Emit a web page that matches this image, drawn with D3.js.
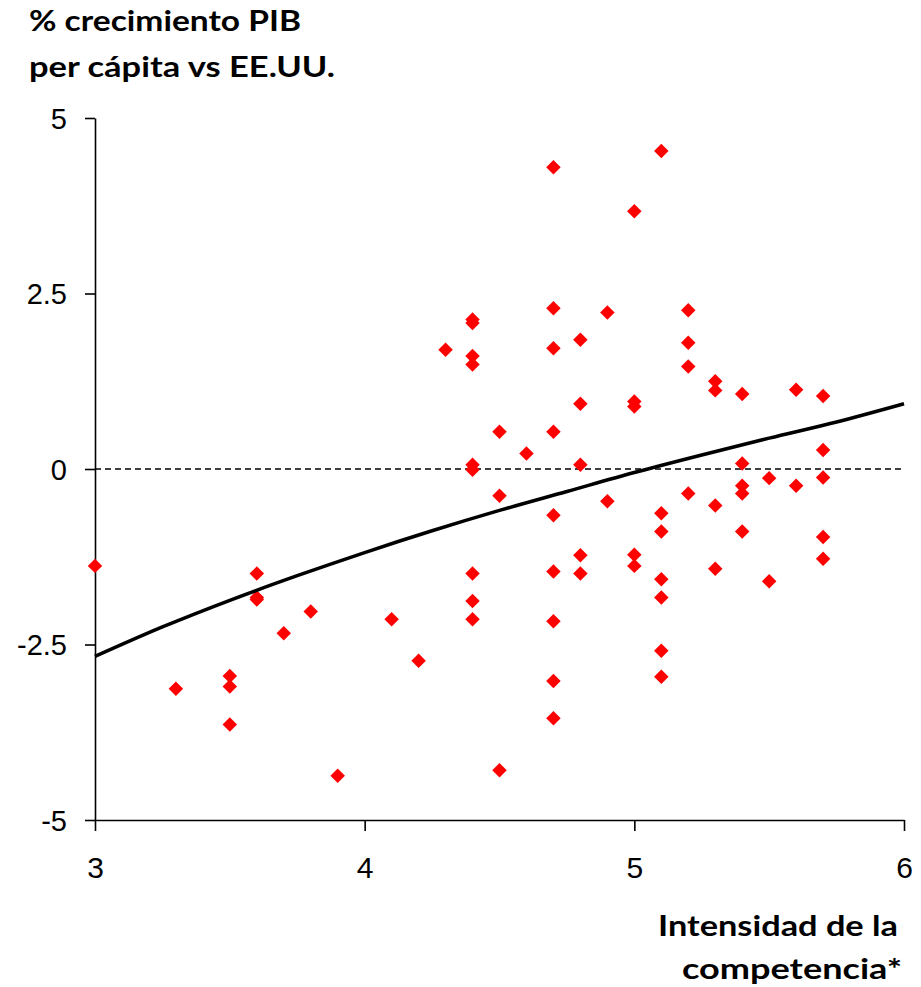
<!DOCTYPE html>
<html>
<head>
<meta charset="utf-8">
<script src="https://cdn.jsdelivr.net/npm/d3@7"></script>
<style>
  body { margin: 0; background: #fff; }
</style>
</head>
<body>
<script>
// intensidad de la competencia (x) y crecimiento PIB per cápita vs EE.UU. (y)
var competencia = [
  3.0, 3.3, 3.5, 3.5, 3.5, 3.6, 3.6, 3.6, 3.7, 3.8, 3.9, 4.1, 4.2, 4.3,
  4.4, 4.4, 4.4, 4.4, 4.4, 4.4, 4.4, 4.4, 4.4,
  4.5, 4.5, 4.5, 4.6,
  4.7, 4.7, 4.7, 4.7, 4.7, 4.7, 4.7, 4.7, 4.7,
  4.8, 4.8, 4.8, 4.8, 4.8, 4.9, 4.9,
  5.0, 5.0, 5.0, 5.0, 5.0,
  5.1, 5.1, 5.1, 5.1, 5.1, 5.1, 5.1,
  5.2, 5.2, 5.2, 5.2, 5.3, 5.3, 5.3, 5.3,
  5.4, 5.4, 5.4, 5.4, 5.4, 5.5, 5.5, 5.6, 5.6,
  5.7, 5.7, 5.7, 5.7, 5.7
];
var crecimiento = [
  -1.38, -3.13, -2.95, -3.10, -3.64, -1.49, -1.83, -1.86, -2.34, -2.03, -4.37, -2.14, -2.73, 1.70,
  2.13, 2.08, 1.61, 1.49, 0.06, -0.01, -1.49, -1.88, -2.14,
  0.53, -0.38, -4.29, 0.22,
  4.30, 2.29, 1.72, 0.53, -0.66, -1.46, -2.17, -3.02, -3.55,
  1.84, 0.93, 0.06, -1.23, -1.49, 2.23, -0.46,
  3.67, 0.96, 0.89, -1.22, -1.38,
  4.53, -0.63, -0.89, -1.57, -1.83, -2.59, -2.96,
  2.26, 1.80, 1.46, -0.35, 1.25, 1.12, -0.52, -1.42,
  1.07, 0.08, -0.24, -0.35, -0.89, -0.13, -1.60, 1.13, -0.24,
  1.04, 0.27, -0.12, -0.97, -1.28
];

// línea de tendencia
var trendX = [3, 3.25, 3.5, 3.75, 4, 4.25, 4.5, 4.75, 5, 5.25, 5.5, 5.75, 6];
var trendY = [-2.67, -2.25, -1.87, -1.52, -1.19, -0.88, -0.59, -0.32, -0.05, 0.20, 0.44, 0.67, 0.93];

var xTicks = [3, 4, 5, 6];
var yTicks = [-5, -2.5, 0, 2.5, 5];

var WIDTH = 921;
var HEIGHT = 987;

var svg = d3.select('body').append('svg')
  .attr('width', WIDTH)
  .attr('height', HEIGHT);

var x = d3.scaleLinear().domain([3, 6]).range([95, 904]);
var y = d3.scaleLinear().domain([-5, 5]).range([820, 118]);

// ejes
var yAxis = svg.append('g')
  .attr('transform', 'translate(' + x(3) + ',0)')
  .call(d3.axisLeft(y)
    .tickValues(yTicks)
    .tickSize(10)
    .tickSizeOuter(0)
    .tickPadding(18)
    .tickFormat(function (d) { return String(d); }));

var xAxis = svg.append('g')
  .attr('transform', 'translate(0,' + y(-5) + ')')
  .call(d3.axisBottom(x)
    .tickValues(xTicks)
    .tickSize(11)
    .tickSizeOuter(0)
    .tickFormat(function (d) { return String(d); }));

svg.selectAll('.domain, .tick line')
  .style('stroke', '#000')
  .style('stroke-width', 1.6);

yAxis.selectAll('text')
  .style('font-family', '"Liberation Sans", Arial, sans-serif')
  .style('font-size', '29px')
  .attr('dy', '0.36em')
  .style('fill', '#000');

xAxis.selectAll('text')
  .style('font-family', '"Liberation Sans", Arial, sans-serif')
  .style('font-size', '30px')
  .attr('y', 58)
  .attr('dy', 0)
  .style('fill', '#000');

// línea discontinua en cero
svg.append('line')
  .attr('x1', x(3))
  .attr('x2', x(6))
  .attr('y1', y(0))
  .attr('y2', y(0))
  .style('stroke', '#000')
  .style('stroke-width', 1.5)
  .style('stroke-dasharray', '6,4');

// puntos
var points = competencia.map(function (d, i) {
  return { x: d, y: crecimiento[i] };
});

svg.append('g').selectAll('path')
  .data(points)
  .enter().append('path')
    .attr('d', d3.symbol().type(d3.symbolSquare).size(105))
    .attr('transform', function (d) {
      return 'translate(' + x(d.x) + ',' + y(d.y) + ') rotate(45)';
    })
    .style('fill', '#ff0000');

// tendencia
var trend = trendX.map(function (d, i) {
  return { x: d, y: trendY[i] };
});

svg.append('path')
  .datum(trend)
  .attr('d', d3.line()
    .x(function (d) { return x(d.x); })
    .y(function (d) { return y(d.y); })
    .curve(d3.curveMonotoneX))
  .style('fill', 'none')
  .style('stroke', '#000')
  .style('stroke-width', 3.5);

// títulos
function title(txt, px, py, anchor, len) {
  svg.append('text')
    .attr('x', px)
    .attr('y', py)
    .attr('text-anchor', anchor)
    .attr('textLength', len)
    .attr('lengthAdjust', 'spacingAndGlyphs')
    .style('font-family', 'Lato, "Open Sans", sans-serif')
    .style('font-weight', 'bold')
    .style('font-size', '28px')
    .style('fill', '#000')
    .text(txt);
}

title('% crecimiento PIB', 29, 31, 'start', 272);
title('per cápita vs EE.UU.', 29, 77, 'start', 306);
title('Intensidad de la', 898, 936, 'end', 240);
title('competencia*', 902, 979, 'end', 220);
</script>
</body>
</html>
